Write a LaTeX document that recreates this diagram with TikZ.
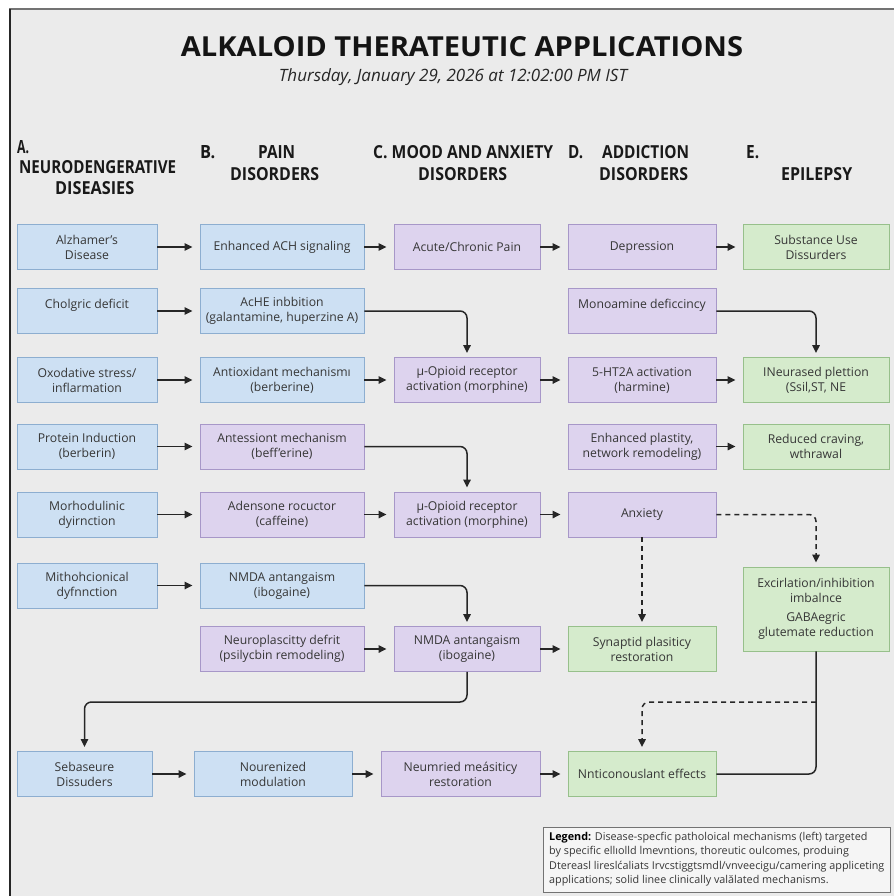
\documentclass[tikz,border=0pt]{standalone}
\usepackage{fontspec}
\setmainfont{Open Sans}
\usetikzlibrary{arrows.meta}
\definecolor{pagebg}{HTML}{EBEBEB}
\definecolor{bfill}{HTML}{CDE0F3}
\definecolor{bdraw}{HTML}{8DAED0}
\definecolor{pfill}{HTML}{DDD3EE}
\definecolor{pdraw}{HTML}{A797C8}
\definecolor{gfill}{HTML}{D5EBCC}
\definecolor{gdraw}{HTML}{97C08B}
\definecolor{txt}{HTML}{363636}
\definecolor{ln}{HTML}{262626}
\newcommand\hd[2]{\resizebox{#1}{13pt}{\bfseries #2}}
\newcommand\up[1]{\raisebox{6pt}[\height][\depth]{#1}}
\begin{document}
\begin{tikzpicture}[x=1pt,y=-1pt,
  box/.style={draw, line width=0.9pt, inner sep=2pt, align=center, text=txt,
     font=\fontsize{12.2}{15}\selectfont, minimum height=45pt},
  bluebox/.style={box, fill=bfill, draw=bdraw},
  purplebox/.style={box, fill=pfill, draw=pdraw},
  greenbox/.style={box, fill=gfill, draw=gdraw},
  ca/.style={minimum width=140pt},
  cb/.style={minimum width=164pt},
  cc/.style={minimum width=146pt},
  cd/.style={minimum width=148pt},
  ce/.style={minimum width=146pt},
  hdr/.style={inner sep=0pt, anchor=base west, text=black!90},
  arr/.style={draw=ln, line width=1.5pt, -{Triangle[length=8pt,width=7.5pt]}, shorten >=7pt},
  darr/.style={draw=ln, line width=1.5pt, rounded corners=7pt, -{Triangle[length=8pt,width=7.5pt]}, shorten >=4pt},
  link/.style={draw=ln, line width=1.5pt, rounded corners=7pt},
  dashlink/.style={dash pattern=on 5pt off 4pt},
  legendbox/.style={draw=black!55, line width=1pt, fill=black!4, minimum width=347pt, minimum height=65pt, inner sep=0pt},
  legtext/.style={inner sep=0pt, align=left, text=txt, font=\fontsize{10.8}{14.5}\selectfont},
]
\useasboundingbox (0,0) rectangle (894,896);
\fill[white] (0,0) rectangle (894,896);
\fill[pagebg] (9,9) rectangle (894,896);
\draw[line width=2.2pt, draw=black!55] (9,9) -- (894,9);
\draw[line width=1.5pt, draw=black!85] (10,9) -- (10,896);

% title
\node[inner sep=0pt, anchor=base, text=black!92] (title) at (462,57)
  {\resizebox{562pt}{20pt}{\bfseries ALKALOID THERATEUTIC APPLICATIONS}};
\node[inner sep=0pt, anchor=base, text=black!85] (subtitle) at (453,82)
  {\resizebox{348pt}{!}{\fontsize{16}{16}\selectfont\itshape Thursday, January 29, 2026 at 12:02:00 PM IST}};

% headers
\node[hdr] (hA1) at (17,154) {\hd{12pt}{A.}};
\node[hdr] (hA2) at (19,174) {\hd{157pt}{NEURODENGERATIVE}};
\node[hdr] (hA3) at (55,195) {\hd{79pt}{DISEASIES}};
\node[hdr] (hB1) at (200,159) {\hd{15pt}{B.}};
\node[hdr] (hB2) at (258,159) {\hd{37pt}{PAIN}};
\node[hdr] (hB3) at (230,181) {\hd{89pt}{DISORDERS}};
\node[hdr] (hC1) at (373,159) {\hd{180pt}{C. MOOD AND ANXIETY}};
\node[hdr] (hC2) at (418,181) {\hd{89pt}{DISORDERS}};
\node[hdr] (hD1) at (568,159) {\hd{15pt}{D.}};
\node[hdr] (hD2) at (602,159) {\hd{87pt}{ADDICTION}};
\node[hdr] (hD3) at (599,181) {\hd{89pt}{DISORDERS}};
\node[hdr] (hE1) at (746,159) {\hd{13pt}{E.}};
\node[hdr] (hE2) at (781,181) {\hd{71pt}{EPILEPSY}};

% row 1
\node[bluebox, ca] (A1) at (87,247) {Alzhamer's\\Disease};
\node[bluebox, cb] (B1) at (282,247) {Enhanced ACH signaling};
\node[purplebox, cc] (C1) at (467,247) {Acute/Chronic Pain};
\node[purplebox, cd] (D1) at (642,247) {Depression};
\node[greenbox, ce] (E1) at (816,247) {Substance Use\\Dissurders};
% row 2
\node[bluebox, ca] (A2) at (87,311) {\up{Cholgric deficit}};
\node[bluebox, cb] (B2) at (282,311) {AcHE inbbition\\(galantamine, huperzine A)};
\node[purplebox, cd] (D2) at (642,311) {\up{Monoamine deficcincy}};
% row 3
\node[bluebox, ca] (A3) at (87,380) {Oxodative stress/\\inflarmation};
\node[bluebox, cb] (B3) at (282,380) {Antioxidant mechanismı\\(berberine)};
\node[purplebox, cc] (C3) at (467,380) {µ-Opioid receptor\\activation (morphine)};
\node[purplebox, cd] (D3) at (642,380) {5-HT2A activation\\(harmine)};
\node[greenbox, ce] (E3) at (816,380) {INeurased plettion\\(Ssil,ST, NE};
% row 4
\node[bluebox, ca] (A4) at (87,446.5) {Protein Induction\\(berberin)};
\node[purplebox, cb] (B4) at (282,446.5) {Antessiont mechanism\\(beff’erine)};
\node[purplebox, cd] (D4) at (642,446.5) {Enhanced plastity,\\network remodeling)};
\node[greenbox, ce] (E4) at (816,446.5) {Reduced craving,\\wthrawal};
% row 5
\node[bluebox, ca] (A5) at (87,514.5) {Morhodulinic\\dyirnction};
\node[purplebox, cb] (B5) at (282,514.5) {Adensone rocuctor\\(caffeine)};
\node[purplebox, cc] (C5) at (467,514.5) {µ-Opioid receptor\\activation (morphine)};
\node[purplebox, cd] (D5) at (642,514.5) {Anxiety};
% row 6
\node[bluebox, ca] (A6) at (87,585.5) {Mithohcionical\\dyfnnction};
\node[bluebox, cb] (B6) at (282,585.5) {NMDA antangaism\\(ibogaine)};
\node[greenbox, ce, minimum height=84pt] (Exc) at (816,609)
  {Excirlation/inhibition\\imbalnce\\[4pt]GABAegric\\glutemate reduction};
% row 7
\node[purplebox, cb] (B7) at (282,649) {Neuroplascitty defrit\\(psilycbin remodeling)};
\node[purplebox, cc] (C7) at (467,649) {NMDA antangaism\\(ibogaine)};
\node[greenbox, cd] (D7) at (642,649) {Synaptid plasiticy\\restoration};
% row 8
\node[bluebox, minimum width=135pt] (A8) at (84.5,774) {Sebaseure\\Dissuders};
\node[bluebox, minimum width=158pt] (B8) at (273,774) {Nourenized\\modulation};
\node[purplebox, minimum width=159pt] (C8) at (460.5,774) {Neumried meásiticy\\restoration};
\node[greenbox, cd] (D8) at (642,774) {Nnticonouslant effects};

% legend
\node[legendbox] (leg) at (716.5,859.5) {};
\node[legtext, anchor=north west] (legt) at (549,832) {\textbf{\color{black}Legend:} Disease-specfic patholoical mechanisms (left) targeted\\
by specific ellıolld lmevntions, thoreutic oulcomes, produing\\
Dtereasl lireslćaliats Irvcstiggtsmdl/vnveecigu/camering appliceting\\
applications; solid linee clinically valălated mechanisms.};

% connectors
\coordinate (turn) at (0,702);
\draw[arr] (A1.east) -- (B1.west);
\draw[arr] (B1.east) -- (C1.west);
\draw[arr] (C1.east) -- (D1.west);
\draw[arr] (D1.east) -- (E1.west);
\draw[arr] (A2.east) -- (B2.west);
\draw[darr] (B2.east) -| (C3.north);
\draw[darr] (D2.east) -| (E3.north);
\draw[arr] (A3.east) -- (B3.west);
\draw[arr] (B3.east) -- (C3.west);
\draw[arr] (C3.east) -- (D3.west);
\draw[arr] (D3.east) -- (E3.west);
\draw[arr] (A4.east) -- (B4.west);
\draw[darr] (B4.east) -| (C5.north);
\draw[arr] (D4.east) -- (E4.west);
\draw[arr] (A5.east) -- (B5.west);
\draw[arr] (B5.east) -- (C5.west);
\draw[arr] (C5.east) -- (D5.west);
\draw[darr, dashlink] (D5.east) -| (Exc.north);
\draw[darr, dashlink] (D5.south) -- (D7.north);
\draw[arr] (A6.east) -- (B6.west);
\draw[darr] (B6.east) -| (C7.north);
\draw[arr] (B7.east) -- (C7.west);
\draw[arr] (C7.east) -- (D7.west);
\draw[darr] (C7.south) -- (C7.south |- turn) -| (A8.north);
\draw[arr] (A8.east) -- (B8.west);
\draw[arr] (B8.east) -- (C8.west);
\draw[arr] (C8.east) -- (D8.west);
\draw[link] (Exc.south) |- (D8.east);
\draw[darr, dashlink] (Exc.south |- turn) -| (D8.north);
\end{tikzpicture}
\end{document}
